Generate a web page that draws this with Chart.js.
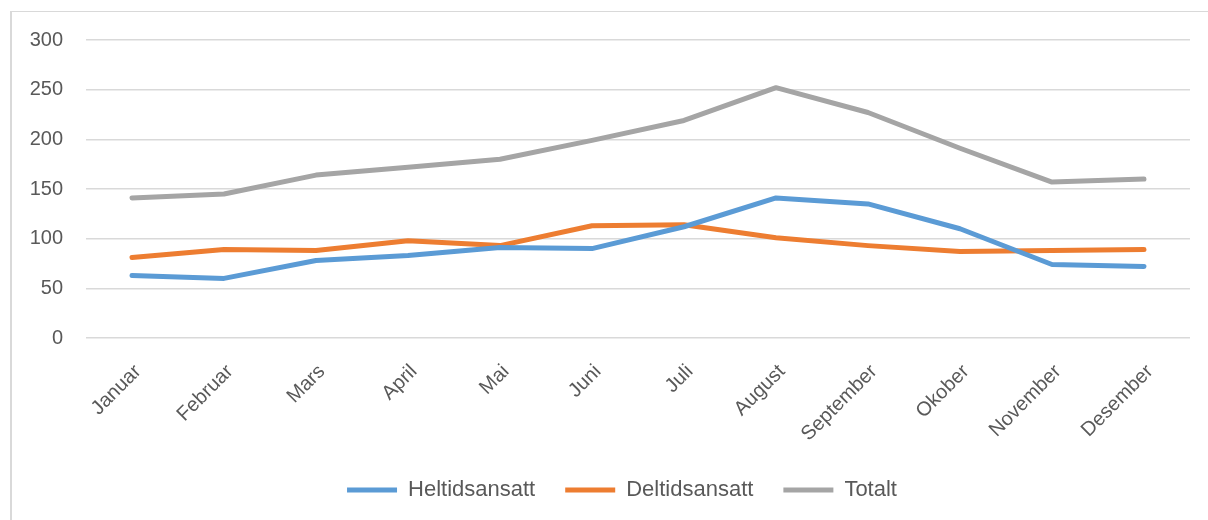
<!DOCTYPE html>
<html lang="no">
<head>
    <meta charset="UTF-8">
    <title>Ansatte per måned</title>
    <script src="https://cdn.jsdelivr.net/npm/chart.js"></script>
</head>
<style>
    body {
        margin: 0;
        padding: 0;
        background: #ffffff;
        font-family: 'Liberation Sans', Arial, sans-serif;
    }

    /* ramme rundt diagrammet (bare topp og venstre synlig) */
    .ramme {
        position: absolute;
        left: 10px;
        top: 11px;
        width: 1220px;
        height: 540px;
        border-top: 1px solid #d9d9d9;
        border-left: 2px solid #d9d9d9;
    }

    .boks {
        position: absolute;
        left: 0;
        top: 0;
        width: 1208px;
        height: 520px;
    }
</style>
<body>
    <div class="ramme"></div>
    <div class="boks">
        <canvas id="ansatte"></canvas>
    </div>

    <script>
        const maaneder = ['Januar', 'Februar', 'Mars', 'April', 'Mai', 'Juni', 'Juli',
            'August', 'September', 'Okober', 'November', 'Desember'];
        const heltid = [63, 60, 78, 83, 91, 90, 112, 141, 135, 110, 74, 72];
        const deltid = [81, 89, 88, 98, 93, 113, 114, 101, 93, 87, 88, 89];
        const totalt = [141, 145, 164, 172, 180, 199, 219, 252, 227, 191, 157, 160];
        const yTicks = [0, 50, 100, 150, 200, 250, 300];

        const tekstFarge = '#595959';
        const skrift = "'Liberation Sans', Arial, sans-serif";

        function serie(navn, data, farge) {
            return {
                label: navn,
                data: data,
                borderColor: farge,
                backgroundColor: farge,
                borderWidth: 5,
                borderCapStyle: 'round',
                borderJoinStyle: 'round',
                pointRadius: 0,
                pointHoverRadius: 0,
                tension: 0,
                fill: false
            };
        }

        // flytter legenden litt mot hoyre, slik som i originalen
        const flyttLegende = {
            id: 'flyttLegende',
            afterLayout(chart) {
                const l = chart.legend;
                if (l) {
                    l.left += 27;
                    l.right += 27;
                }
            }
        };

        const ctx = document.getElementById('ansatte').getContext('2d');
        new Chart(ctx, {
            type: 'line',
            data: {
                labels: maaneder,
                datasets: [
                    serie('Heltidsansatt', heltid, '#5b9bd5'),
                    serie('Deltidsansatt', deltid, '#ed7d31'),
                    serie('Totalt', totalt, '#a5a5a5')
                ]
            },
            plugins: [flyttLegende],
            options: {
                responsive: true,
                maintainAspectRatio: false,
                animation: false,
                layout: {
                    padding: { top: 40, right: 18, left: 0, bottom: 9 }
                },
                plugins: {
                    tooltip: { enabled: false },
                    legend: {
                        position: 'bottom',
                        labels: {
                            usePointStyle: true,
                            pointStyle: 'line',
                            pointStyleWidth: 50,
                            boxHeight: 20,
                            padding: 30,
                            color: tekstFarge,
                            font: { family: skrift, size: 22 }
                        }
                    }
                },
                scales: {
                    x: {
                        offset: true,
                        grid: { display: false },
                        border: { display: false },
                        ticks: {
                            color: tekstFarge,
                            font: { family: skrift, size: 20 },
                            minRotation: 45,
                            maxRotation: 45,
                            padding: 14,
                            labelOffset: 6
                        },
                        afterFit: function (scale) {
                            scale.height = 111;
                        }
                    },
                    y: {
                        min: 0,
                        max: 300,
                        afterBuildTicks: function (scale) {
                            scale.ticks = yTicks.map(v => ({ value: v }));
                        },
                        grid: {
                            color: '#d9d9d9',
                            lineWidth: 1.5,
                            drawTicks: false
                        },
                        border: { display: false },
                        ticks: {
                            color: tekstFarge,
                            font: { family: skrift, size: 20 },
                            padding: 23
                        },
                        afterFit: function (scale) {
                            scale.width = 86;
                        }
                    }
                }
            }
        });
    </script>
</body>
</html>
